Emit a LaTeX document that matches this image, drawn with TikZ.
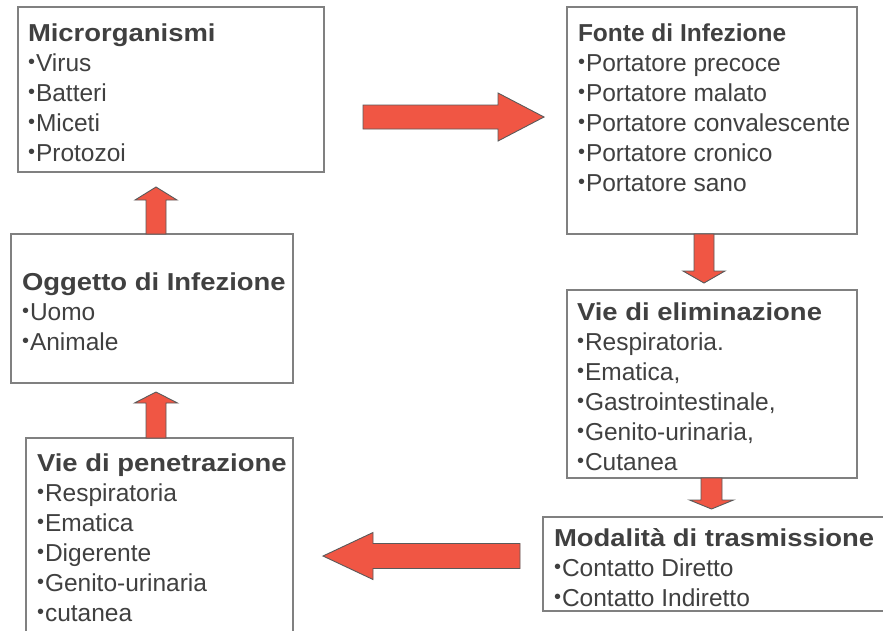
\documentclass[tikz,border=0pt]{standalone}
\usepackage{fontspec}
\setmainfont{Liberation Sans}
\usepackage{graphicx}
\usetikzlibrary{calc}
\definecolor{txtgray}{RGB}{64,64,64}
\definecolor{boxgray}{RGB}{128,128,128}
\definecolor{arrowred}{RGB}{240,86,68}
\definecolor{arrowline}{RGB}{90,90,90}
\newcommand\bul{\raisebox{2.3pt}{\fontsize{20}{20}\selectfont\textbullet}\hspace{1pt}}
\newcommand\ttl[1]{\scalebox{1.12}[1]{\bfseries #1}}
\newcommand\blockarrow[5]{%
  \coordinate (#1b) at ($(#2)!#5!(#1)$);
  \draw[arrowbody] ($(#1)!#3!90:(#2)$) -- ($(#1b)!#3!90:(#2)$) -- ($(#1b)!#4!90:(#2)$) -- (#2)
    -- ($(#1b)!#4!-90:(#2)$) -- ($(#1b)!#3!-90:(#2)$) -- ($(#1)!#3!-90:(#2)$) -- cycle;}
\tikzset{
  box/.style={draw=boxgray, line width=1.5pt, inner sep=0pt, outer sep=0pt, anchor=north west},
  boxtext/.style={anchor=base west, inner sep=0pt, outer sep=0pt, text=txtgray,
    font=\fontsize{24.5}{30}\selectfont},
  arrowbody/.style={fill=arrowred, draw=arrowline, line width=0.9pt, line join=miter}
}
\begin{document}
\begin{tikzpicture}[x=1pt, y=-1pt]
\useasboundingbox (0,0) rectangle (883,630);
\clip (0,0) rectangle (883,630);
\fill[white] (0,0) rectangle (883,630);

% boxes
\node[box, minimum width=306pt, minimum height=165pt] (A) at (18,7) {};
\node[box, minimum width=290pt, minimum height=227pt] (B) at (567,7) {};
\node[box, minimum width=282pt, minimum height=149pt] (C) at (11,234) {};
\node[box, minimum width=290pt, minimum height=188pt] (D) at (567,290) {};
\node[box, minimum width=267pt, minimum height=230pt] (E) at (26,438) {};
\node[box, minimum width=360pt, minimum height=94pt] (F) at (543,517) {};

% block arrows
\coordinate (r1) at (363,117);
\coordinate (r2) at (544,117);
\blockarrow{r1}{r2}{12pt}{24pt}{46pt}
\coordinate (d1) at ($(B.south west)+(137,0)$);
\coordinate (d1t) at ($(D.north west)+(137,-7)$);
\blockarrow{d1}{d1t}{10pt}{21pt}{12pt}
\coordinate (d2) at ($(D.south west)+(144.5,0)$);
\coordinate (d2t) at ($(F.north west)+(168.5,-8)$);
\blockarrow{d2}{d2t}{10.5pt}{22pt}{9pt}
\coordinate (l1) at (520,556);
\coordinate (l2) at (323,556);
\blockarrow{l1}{l2}{12.5pt}{23.5pt}{50pt}
\coordinate (u1) at ($(C.north west)+(145,0)$);
\coordinate (u1t) at ($(A.south west)+(138,15)$);
\blockarrow{u1}{u1t}{10pt}{21pt}{13pt}
\coordinate (u2) at ($(E.north west)+(130,0)$);
\coordinate (u2t) at ($(C.south west)+(145,9)$);
\blockarrow{u2}{u2t}{10pt}{21.5pt}{11pt}

% texts
\node[boxtext] (At) at (28,41) {\parbox[t]{290pt}{\ttl{Microrganismi}\\\bul Virus\\\bul Batteri\\\bul Miceti\\\bul Protozoi}};
\node[boxtext] (Bt) at (578,41) {\parbox[t]{290pt}{\bfseries Fonte di Infezione\\\mdseries\bul Portatore precoce\\\bul Portatore malato\\\bul Portatore convalescente\\\bul Portatore cronico\\\bul Portatore sano}};
\node[boxtext] (Ct) at (22,290) {\parbox[t]{290pt}{\ttl{Oggetto di Infezione}\\\bul Uomo\\\bul Animale}};
\node[boxtext] (Dt) at (577,320) {\parbox[t]{290pt}{\ttl{Vie di eliminazione}\\\bul Respiratoria.\\\bul Ematica,\\\bul Gastrointestinale,\\\bul Genito-urinaria,\\\bul Cutanea}};
\node[boxtext] (Et) at (37,471) {\parbox[t]{290pt}{\ttl{Vie di penetrazione}\\\bul Respiratoria\\\bul Ematica\\\bul Digerente\\\bul Genito-urinaria\\\bul cutanea}};
\node[boxtext] (Ft) at (554,546) {\parbox[t]{340pt}{\ttl{Modalità di trasmissione}\\\bul Contatto Diretto\\\bul Contatto Indiretto}};
\end{tikzpicture}
\end{document}
